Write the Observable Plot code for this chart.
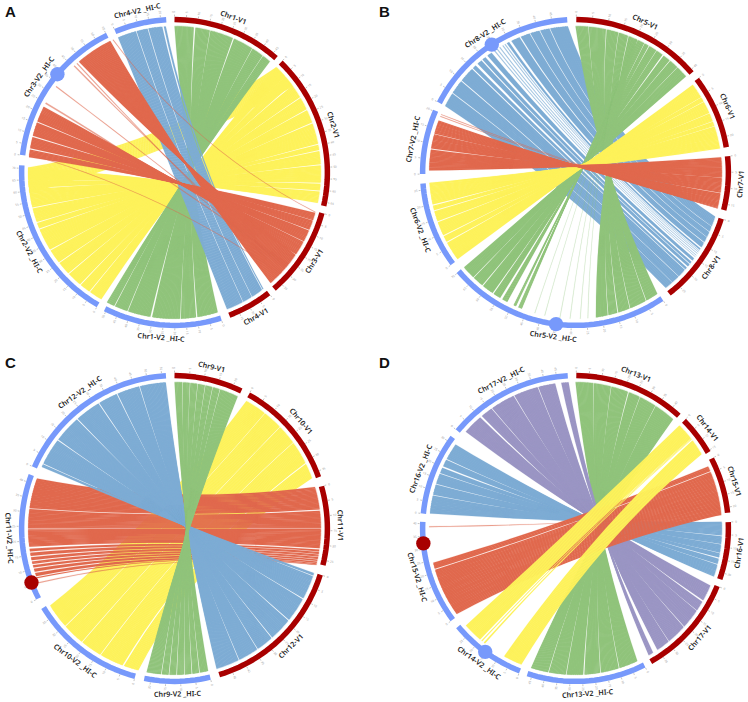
<!DOCTYPE html>
<html><head><meta charset="utf-8">
<script src="https://cdn.jsdelivr.net/npm/d3@7"></script>
<script src="https://cdn.jsdelivr.net/npm/@observablehq/plot@0.6"></script>
<style>
html,body{margin:0;padding:0;background:#fff}
#wrap{position:relative;width:748px;height:702px;overflow:hidden}
.p{position:absolute;width:374px;height:351px}
.p svg{display:block;background:transparent}
.l{position:absolute;left:5px;top:3px;font:bold 15px "Liberation Sans",Arial,sans-serif;color:#111}
</style></head><body><div id="wrap"></div>
<script>
// Angles are degrees clockwise from the top of each circle.
const SECTORS_A=[["Chr1-V1",0,41.6],["Chr2-V1",44,102.6],["Chr3-V1",105.4,139.4],["Chr4-V1",142,159],["Chr1-V2 _HI-C",162.3,207],["Chr2-V2 _HI-C",210,272.7],["Chr3-V2 _HI-C",276.5,333.9],["Chr4-V2 _HI-C",337.2,356.9]];
const SECTORS_B=[["Chr5-V1",0.3,49.4],["Chr6-V1",52.5,80.5],["Chr7-V1",83.9,104.2],["Chr8-V1",107.6,142.3],["Chr5-V2 _HI-C",145.6,229.8],["Chr6-V2 _HI-C",233.4,265.9],["Chr7-V2 _HI-C",269.4,293.8],["Chr8-V2 _HI-C",297.1,356.9]];
const SECTORS_C=[["Chr9-V1",0,25.9],["Chr10-V1",29,70.4],["Chr11-V1",74,103.9],["Chr12-V1",107.6,163],["Chr9-V2 _HI-C",166.5,191.4],["Chr10-V2 _HI-C",194.9,238.9],["Chr11-V2 _HI-C",242.8,290.5],["Chr12-V2 _HI-C",293.6,356.8]];
const SECTORS_D=[["Chr13-V1",0.3,42.5],["Chr14-V1",45.2,60.2],["Chr15-V1",62.8,84.1],["Chr16-V1",87.6,109.3],["Chr17-V1",112.1,150.5],["Chr13-V2 _HI-C",153.3,198.3],["Chr14-V2 _HI-C",201.3,230.1],["Chr15-V2 _HI-C",233.4,272.5],["Chr16-V2 _HI-C",275.6,306.6],["Chr17-V2 _HI-C",309.6,357.1]];

// Links: [source start, source end, target at source start, target at source end]
const A_YELLOW=[[44,54,272,262],[44,48.8,210,215.2],[49.2,53.2,215.6,219.8],[53.6,59,220.2,226.1],[59.4,64.4,226.5,231.8],[64.8,70,232.2,237.8],[70.4,78.7,238.2,247.1],[79.1,81.2,247.5,249.8],[81.6,86.8,250.2,255.8],[87.2,94,256.2,263.5],[94.4,97.1,263.9,266.8],[97.5,102,267.2,272]];
const A_GREEN=[[0,7.6,162.8,171],[8.2,14,171.5,177.5],[14.2,23.5,177.8,188.8],[24,32,189.5,198.5],[32.2,37,198.8,204],[37.2,40.7,204.3,207.5]];
const A_BLUE=[[142.6,143,356.6,355.8],[143.3,148,355.2,349.7],[148.2,152,349.4,345],[152.2,159,344.7,337.3]];
const A_RED=[[106,109,276,279],[109.2,113,279.5,284],[113.3,118,284.5,290],[118.2,124,290.4,296.7],[124.2,139,319.2,334]];
const A_RED_THIN=[[105.6,105.9,335,335.3],[129,129.4,298,298.6],[130,130.3,305.8,306.2],[131,131.3,316.5,317],[133,133.3,318,318.4],[133.6,133.8,277,277.3]];

const B_BLUE=[[107.5,111.5,357,350],[111.7,113.8,349.7,346],[114,116.1,345.7,342],[116.3,118.4,341.7,338],[118.7,120.7,337.5,334],[121.3,121.9,333,332],[125.9,127,325,323],[127.6,128.5,322,320.5],[128.8,129.9,320,318],[130.5,131.4,317,315.5],[131.7,135.1,315,309],[135.3,138.6,308.6,303],[138.7,142,302.7,297]];
const B_BLUE_THIN=[[122.2,122.4,331.4,331],[122.8,123,330.4,330],[123.5,123.7,329,328.6],[124.3,124.5,327.8,327.4],[125,125.2,326.6,326.2]];
const B_GREEN=[[0,5,146,151],[5.2,12,151.3,158],[12.3,17,158.3,163],[17.2,21,163.4,167],[21.3,25,167.3,172],[25.2,28,201.5,203],[28.2,30,204,205],[30.3,33.5,207.8,210],[33.7,36.5,211,214],[37,40,214.5,219.2],[40.3,44,219.6,224],[44.2,49,224.3,229.6]];
const B_GREEN_THIN=[[20,20.1,175,175.3],[21,21.1,178,178.3],[22,22.1,182,182.3],[23,23.1,186,186.3],[24,24.1,192,192.3],[24.6,24.7,196,196.3]];
const B_YELLOW=[[53.2,59,233.7,241.3],[59.2,61,241.7,244.2],[61.2,66,244.6,250.1],[66.2,69.5,250.5,254.6],[69.7,71.5,255,256.9],[71.7,80.6,257.4,266]];
const B_RED=[[84,92,270.8,279],[92.1,98,279.4,285.2],[98.2,104,285.4,290.8]];
const B_RED_THIN=[[104,104.2,292.4,292.7],[104,104.2,293.2,293.5]];

const C_YELLOW=[[63.8,69.9,200.2,194.3],[29.4,38,238.2,228.3],[38.2,46,228,219.3],[46.2,54,219,210.5],[54.2,63.4,210.2,200.8]];
const C_RED=[[73.5,82.5,290,278],[83,90,277.7,270],[90.2,97.8,269.7,262.8],[98.3,99,262,261],[99.2,100,260.5,259.2],[100.2,101,258.7,257.5],[101.2,102,257,256],[102.2,102.8,255.5,254.5],[103,103.6,254,252.8],[103.7,104.1,252.3,251],[104.2,104.4,250.5,250.1]];
const C_RED_THIN=[[104.3,104.4,248.5,248]];
const C_BLUE=[[107.7,108.7,294.9,296],[109,118.5,296.4,307],[118.9,128.6,307.4,318.2],[129,138.1,318.6,328.7],[138.5,145.3,329.1,336.7],[145.6,153.7,337.1,346],[154,163.3,346.3,356.6]];
const C_GREEN=[[0,3,166.7,170],[3.2,6,170.3,173],[6.2,9,173.3,176],[9.2,12,176.3,179],[12.2,15,179.3,182],[15.2,18,182.3,185],[18.2,25.6,185.3,191]];

const D_GREEN=[[0,7,155,162.5],[7.2,14,162.8,170],[14.2,21,170.3,176.5],[21.4,26,177,183.5],[26.2,33,183.8,190.5],[33.2,41.8,190.8,197.7]];
const D_PURPLE=[[112.9,119.4,311.4,319.4],[120,124,320.2,325],[124.2,132,325.3,335],[132.3,140.3,335.3,345],[140.5,146,345.3,352],[148,150,354.4,357.3]];
const D_BLUE=[[87.4,92.7,275.9,283],[93,96.1,283.3,287.5],[96.3,99.5,287.8,292],[99.7,101.4,292.3,294.5],[101.9,104,295.2,298],[104.3,109.2,298.4,305]];
const D_RED=[[64.9,67,256.5,254],[67.3,84.6,253.6,234.2]];
const D_RED_THIN=[[84.6,84.8,270.9,270.5]];
const D_YELLOW=[[45.2,52,228.5,220.7],[52.1,52.3,220,219.6],[52.4,52.6,218.8,218.2],[53,59.5,209.2,201.7]];

const GREEN="#90c47b",YELLOW="#fdf25b",RED="#e0694e",BLUE="#7eacd4",PURPLE="#9b95c4",DARK="#a80000",RING="#7799fb";
const R_PX=156,R_RING=.98,R_LINK=.938,BEND=.5,SUB=.5;
const pt=(deg,r)=>{const t=deg*Math.PI/180;return [r*Math.sin(t),r*Math.cos(t)]};
function outline(id,a1,a2,b1,b2){
  const P=[];
  const bez=(u,v)=>{const p=pt(u,R_LINK),q=pt(v,R_LINK),c=[BEND*(p[0]+q[0])/2,BEND*(p[1]+q[1])/2];
    for(let i=0;i<=14;i++){const t=i/14,s=1-t;P.push([s*s*p[0]+2*s*t*c[0]+t*t*q[0],s*s*p[1]+2*s*t*c[1]+t*t*q[1]])}};
  bez(a2,b1);bez(b2,a1);
  return P.map(([x,y])=>({id,x,y}));
}
// A block is a run of many fine alignments: each thin strip keeps its width and slightly overlaps the next.
function blocks(rows){
  const out=[];let id=0;
  for(const [a1,a2,b1,b2] of rows){
    const n=Math.max(1,Math.round(Math.abs(a2-a1)/SUB));
    for(let i=0;i<n;i++){
      const e=i<n-1?i+1.35:i+1;
      const u0=a1+(a2-a1)*i/n,u1=a1+(a2-a1)*e/n;
      const v0=b1+(b2-b1)*i/n,v1=b1+(b2-b1)*e/n;
      const lo=Math.min(v0,v1),hi=Math.max(v0,v1);
      for(const r of outline(id++,u0,u1,lo,hi))out.push(r);
    }
  }
  return out;
}
function panel(letter,left,top,cx,cy,sectors,layers,dots,step){
  const marks=[];
  for(const [rows,color,op] of layers)
    marks.push(Plot.line(blocks(rows),{x:"x",y:"y",z:"id",fill:color,stroke:color,strokeWidth:.15,fillOpacity:op,strokeOpacity:op,curve:"linear-closed"}));
  const ring=sectors.flatMap(([name,s,e],i)=>{const n=Math.ceil((e-s)/2),o=[];for(let k=0;k<=n;k++){const [x,y]=pt(s+(e-s)*k/n,R_RING);o.push({i,x,y,c:name.includes("V2")?RING:DARK})}return o});
  marks.push(Plot.line(ring,{x:"x",y:"y",z:"i",stroke:"c",strokeWidth:5.5,strokeLinecap:"butt",curve:"linear"}));
  const ticks=sectors.flatMap(([name,s,e])=>{const o=[];for(let k=0,a=s;a<=e;k++,a+=step)o.push({a,v:String(k*5)});return o});
  marks.push(Plot.link(ticks,{x1:d=>pt(d.a,1.0)[0],y1:d=>pt(d.a,1.0)[1],x2:d=>pt(d.a,1.012)[0],y2:d=>pt(d.a,1.012)[1],stroke:"#888",strokeWidth:.5}));
  marks.push(Plot.text(ticks,{x:d=>pt(d.a,1.03)[0],y:d=>pt(d.a,1.03)[1],text:"v",fontSize:3,fill:"#999",rotate:d=>{const a=d.a%360;return a<180?a-90:a+90}}));
  marks.push(Plot.text(sectors,{x:d=>pt((d[1]+d[2])/2,1.062)[0],y:d=>pt((d[1]+d[2])/2,1.062)[1],text:d=>d[0],fontSize:7.2,fontWeight:600,fontFamily:"Noto Sans",fill:"#222",rotate:d=>{const a=(d[1]+d[2])/2;return (a>90&&a<=270)?a-180:(a>270?a-360:a)}}));
  marks.push(Plot.dot(dots,{x:d=>pt(d[0],R_RING)[0],y:d=>pt(d[0],R_RING)[1],r:7.2,fill:d=>d[1],stroke:"none"}));
  const svg=Plot.plot({width:374,height:351,margin:0,
    x:{domain:[-cx/R_PX,(374-cx)/R_PX],axis:null},
    y:{domain:[-(351-cy)/R_PX,cy/R_PX],axis:null},
    color:{type:"identity"},marks});
  const d=document.createElement("div");d.className="p";d.style.left=left+"px";d.style.top=top+"px";
  d.appendChild(svg);
  const l=document.createElement("div");l.className="l";l.textContent=letter;d.appendChild(l);
  document.getElementById("wrap").appendChild(d);
}
panel("A",0,0,174,172,SECTORS_A,[[A_YELLOW,YELLOW,1],[A_GREEN,GREEN,1],[A_BLUE,BLUE,1],[A_RED,RED,1],[A_RED_THIN,RED,.6]],[[310,RING]],4.4);
panel("B",374,0,201,172,SECTORS_B,[[B_BLUE,BLUE,1],[B_BLUE_THIN,BLUE,.7],[B_GREEN,GREEN,1],[B_GREEN_THIN,GREEN,.35],[B_YELLOW,YELLOW,1],[B_RED,RED,1],[B_RED_THIN,RED,.6]],[[326.8,RING],[187.3,RING]],6);
panel("C",0,351,174,177,SECTORS_C,[[C_YELLOW,YELLOW,1],[C_RED,RED,1],[C_RED_THIN,RED,.6],[C_BLUE,BLUE,1],[C_GREEN,GREEN,1]],[[249.3,DARK]],5.6);
panel("D",374,351,201,177,SECTORS_D,[[D_GREEN,GREEN,1],[D_PURPLE,PURPLE,1],[D_BLUE,BLUE,1],[D_RED,RED,1],[D_RED_THIN,RED,.6],[D_YELLOW,YELLOW,1]],[[264.4,DARK],[216.2,RING]],4.8);
</script></body></html>
